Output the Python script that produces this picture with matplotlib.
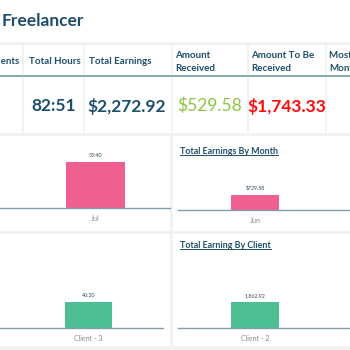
import matplotlib.pyplot as plt
from matplotlib.patches import Rectangle
from matplotlib.lines import Line2D

# card row
card_titles = ["Total Clients", "Total Hours", "Total Earnings", "Amount\nReceived",
               "Amount To Be\nReceived", "Most Earning\nMonth"]
card_values = ["", "82:51", "$2,272.92", "$529.58", "$1,743.33", "Feb"]

# charts
hours_month = ["Jul"]
hours_month_vals = [53.67]
hours_month_labels = ["53:40"]

earn_month = ["Jun"]
earn_month_vals = [729.58]
earn_month_labels = ["$729.58"]

hours_client = ["Client - 3"]
hours_client_vals = [40.33]
hours_client_labels = ["40:20"]

earn_client = ["Client - 2"]
earn_client_vals = [1862.92]
earn_client_labels = ["1,862.92"]

W, H = 350, 350
plt.rcParams['font.family'] = ['Lato', 'DejaVu Sans']
fig = plt.figure(figsize=(3.5, 3.5), dpi=100, facecolor='#f1f2f4')

NAVY = '#1d4e6b'
LINE = '#7f9fb0'


def fx(x):
    return x / W


def fy(y):
    return 1 - y / H


def panel(x0, y0, x1, y1):
    fig.patches.append(Rectangle((fx(x0), fy(y1)), fx(x1 - x0), (y1 - y0) / H,
                                 transform=fig.transFigure, facecolor='white',
                                 edgecolor='none', zorder=-5))


# background panels
panel(-5, -5, 355, 42)
card_x = [(-40, 22), (24, 83), (85, 171), (173, 247), (249, 325), (327, 420)]
for x0, x1 in card_x:
    panel(x0, 45, x1, 133)
panel(-5, 136, 170, 231)
panel(173, 136, 355, 231)
panel(-5, 234, 170, 346)
panel(173, 234, 355, 346)

fig.text(fx(2), fy(21), "Freelancer", color=NAVY, fontsize=12.5,
         fontweight='bold', va='center', ha='left')

# cards
title_x = [-36, 29, 89, 175, 251, 329]
value_cx = [0, 54, 127, 210, 287, 350]
value_col = [NAVY, NAVY, NAVY, '#8cc63f', '#ff0a0a', NAVY]
value_wt = ['bold', 'bold', 'bold', 'normal', 'bold', 'bold']
for i, (x0, x1) in enumerate(card_x):
    fig.text(fx(title_x[i]), fy(62), card_titles[i], color=NAVY, fontsize=7,
             fontweight='bold', va='center', ha='left', linespacing=1.45)
    fig.lines.append(Line2D([fx(max(x0, 0)), fx(min(x1, W))], [fy(75.5), fy(75.5)],
                            transform=fig.transFigure, color=LINE, lw=1.3))
    fig.text(fx(value_cx[i]), fy(106), card_values[i], color=value_col[i],
             fontsize=12.5, fontweight=value_wt[i], va='center',
             ha='left' if i == 5 else 'center')


def bar_chart(cats, vals, labels, color, x0, x1, y_top, y_base, bar_l, bar_r, bar_top):
    ax = fig.add_axes([fx(x0), fy(y_base), fx(x1 - x0), (y_base - y_top) / H])
    ax.patch.set_alpha(0)
    ppu = (bar_r - bar_l) / 0.6
    cx = (bar_l + bar_r) / 2
    ax.set_xlim(-(cx - x0) / ppu, (x1 - cx) / ppu)
    ax.set_ylim(0, vals[0] * (y_base - y_top) / (y_base - bar_top))
    bars = ax.bar(range(len(cats)), vals, width=0.6, color=color)
    ax.bar_label(bars, labels=labels, fontsize=3.8, color='#2b4a5f', padding=3)
    ax.set_xticks(range(len(cats)), cats)
    ax.tick_params(axis='x', length=0, labelsize=5, labelcolor='#8a8a8a', pad=5)
    ax.set_yticks([])
    for s in ['top', 'left', 'right']:
        ax.spines[s].set_visible(False)
    ax.spines['bottom'].set_color(LINE)
    ax.spines['bottom'].set_linewidth(1.0)
    return ax


def section_title(text, x, y):
    t = fig.text(fx(x), fy(y), text, color=NAVY, fontsize=6.4, fontweight='bold',
                 va='center', ha='left')
    fig.canvas.draw()
    bb = t.get_window_extent().transformed(fig.transFigure.inverted())
    fig.lines.append(Line2D([bb.x0, bb.x1], [bb.y0 + 0.002, bb.y0 + 0.002],
                            transform=fig.transFigure, color=NAVY, lw=0.7))


PINK = '#ef5f8f'
GREEN = '#4dbf93'

bar_chart(hours_month, hours_month_vals, hours_month_labels, PINK,
          0, 170, 140, 208, 66, 125, 162)
bar_chart(earn_month, earn_month_vals, earn_month_labels, PINK,
          178, 350, 160, 210, 231, 279, 195)
section_title("Total Earnings By Month", 180, 151)

bar_chart(hours_client, hours_client_vals, hours_client_labels, GREEN,
          0, 163, 255, 328, 65, 112, 302)
bar_chart(earn_client, earn_client_vals, earn_client_labels, GREEN,
          178, 350, 255, 328, 231, 279, 302)
section_title("Total Earning By Client", 180, 245)

fig.savefig("out.png", dpi=100, facecolor=fig.get_facecolor())
